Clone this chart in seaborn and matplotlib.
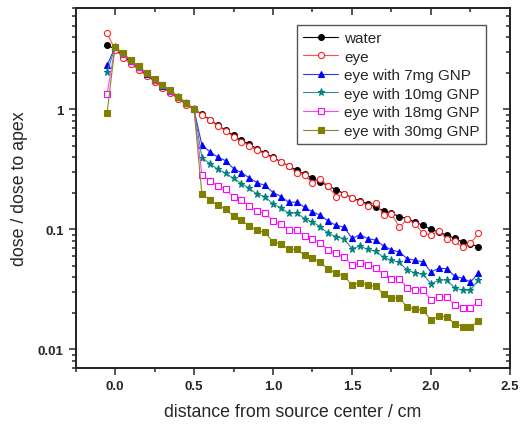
import pandas as pd
import matplotlib
matplotlib.use("Agg")
import matplotlib.pyplot as plt
import seaborn as sns

# distance from source center / cm
distance = [-0.05, 0.00, 0.05, 0.10, 0.15, 0.20, 0.25, 0.30, 0.35, 0.40, 0.45, 0.50,
            0.55, 0.60, 0.65, 0.70, 0.75, 0.80, 0.85, 0.90, 0.95, 1.00,
            1.05, 1.10, 1.15, 1.20, 1.25, 1.30, 1.35, 1.40, 1.45, 1.50,
            1.55, 1.60, 1.65, 1.70, 1.75, 1.80, 1.85, 1.90, 1.95, 2.00,
            2.05, 2.10, 2.15, 2.20, 2.25, 2.30]

water = [3.41, 3.20, 2.80, 2.47, 2.20, 1.95, 1.73, 1.55, 1.39, 1.25, 1.12, 1.00,
         0.914, 0.82, 0.74, 0.671, 0.607, 0.552, 0.511, 0.469, 0.433, 0.398,
         0.366, 0.338, 0.311, 0.289, 0.268, 0.248, 0.231, 0.214, 0.198, 0.184,
         0.173, 0.164, 0.153, 0.143, 0.136, 0.128, 0.123, 0.115, 0.108, 0.100,
         0.095, 0.0897, 0.0841, 0.0784, 0.076, 0.0713]

eye = [4.30, 3.15, 2.70, 2.38, 2.13, 1.90, 1.70, 1.52, 1.37, 1.22, 1.09, 1.00,
       0.90, 0.81, 0.73, 0.66, 0.59, 0.535, 0.50, 0.455, 0.425, 0.39,
       0.362, 0.336, 0.295, 0.283, 0.245, 0.262, 0.228, 0.188, 0.197, 0.182,
       0.170, 0.158, 0.167, 0.133, 0.134, 0.105, 0.121, 0.110, 0.0925, 0.090,
       0.0964, 0.083, 0.0794, 0.071, 0.0765, 0.093]

gnp7 = [2.34, 3.28, 2.88, 2.53, 2.24, 1.99, 1.76, 1.57, 1.41, 1.26, 1.12, 1.00,
        0.503, 0.444, 0.400, 0.374, 0.321, 0.297, 0.269, 0.244, 0.233, 0.203,
        0.188, 0.168, 0.169, 0.153, 0.140, 0.131, 0.117, 0.108, 0.1045, 0.0841,
        0.0903, 0.0837, 0.0815, 0.0726, 0.0677, 0.0646, 0.0571, 0.0552, 0.0536, 0.0441,
        0.0476, 0.0469, 0.0408, 0.0391, 0.0365, 0.0432]

gnp10 = [2.05, 3.28, 2.88, 2.53, 2.24, 1.99, 1.76, 1.57, 1.41, 1.26, 1.12, 1.00,
         0.397, 0.353, 0.318, 0.294, 0.266, 0.241, 0.220, 0.196, 0.188, 0.162,
         0.152, 0.136, 0.137, 0.123, 0.115, 0.1053, 0.0926, 0.0869, 0.0837, 0.069,
         0.0726, 0.0681, 0.0659, 0.0584, 0.0552, 0.0534, 0.0455, 0.0435, 0.0422, 0.0353,
         0.0376, 0.0381, 0.0324, 0.0312, 0.0312, 0.0378]

gnp18 = [1.35, 3.29, 2.90, 2.55, 2.26, 2.00, 1.77, 1.59, 1.42, 1.27, 1.13, 1.00,
         0.285, 0.254, 0.230, 0.218, 0.185, 0.175, 0.156, 0.141, 0.137, 0.117,
         0.111, 0.0994, 0.0994, 0.0879, 0.0825, 0.0775, 0.0668, 0.0631, 0.0592, 0.0501,
         0.0521, 0.051, 0.048, 0.0422, 0.0388, 0.0388, 0.0327, 0.0315, 0.0312, 0.0258,
         0.0275, 0.0275, 0.0233, 0.0223, 0.0223, 0.0248]

gnp30 = [0.94, 3.31, 2.95, 2.58, 2.28, 2.02, 1.78, 1.61, 1.44, 1.28, 1.14, 1.00,
         0.196, 0.177, 0.159, 0.148, 0.129, 0.1195, 0.107, 0.098, 0.0944, 0.0784,
         0.076, 0.0681, 0.0681, 0.061, 0.0573, 0.0534, 0.0464, 0.043, 0.0411, 0.0343,
         0.036, 0.0343, 0.0335, 0.0289, 0.0269, 0.0269, 0.0225, 0.0217, 0.0213, 0.0175,
         0.019, 0.0187, 0.0164, 0.0155, 0.0154, 0.0172]

labels = ["water", "eye", "eye with 7mg GNP", "eye with 10mg GNP",
          "eye with 18mg GNP", "eye with 30mg GNP"]

df = pd.DataFrame({"distance": distance, labels[0]: water, labels[1]: eye,
                   labels[2]: gnp7, labels[3]: gnp10, labels[4]: gnp18,
                   labels[5]: gnp30})
long_df = df.melt(id_vars="distance", var_name="sample", value_name="dose")

sns.set_style("ticks")
plt.rcParams["font.family"] = ["Liberation Sans", "DejaVu Sans"]

# estilo de cada curva (cor da linha, cor do marcador, marcador, preenchido?, tamanho)
styles = {
    "water": ("#000000", "#000000", "o", True, 4.2),
    "eye": ("#FF5050", "#FF2020", "o", False, 4.4),
    "eye with 7mg GNP": ("#3030FF", "#0000FF", "^", True, 4.6),
    "eye with 10mg GNP": ("#2A9090", "#008080", "*", True, 5.2),
    "eye with 18mg GNP": ("#FF40FF", "#FF00FF", "s", False, 3.8),
    "eye with 30mg GNP": ("#8A8A20", "#808000", "s", True, 3.8),
}

fig = plt.figure(figsize=(5.27, 4.27), dpi=100)
ax = fig.add_axes([0.1433, 0.1358, 0.9677 - 0.1433, 0.979 - 0.1358])

for name in labels:
    lcolor, mcolor, marker, filled, ms = styles[name]
    sub = long_df[long_df["sample"] == name]
    sns.lineplot(data=sub, x="distance", y="dose", ax=ax, color=lcolor,
                 marker=marker, markersize=ms, linewidth=0.8,
                 markerfacecolor=mcolor if filled else "white",
                 markeredgecolor=mcolor, markeredgewidth=0.8, label=name)

xmaj = [0.0, 0.5, 1.0, 1.5, 2.0, 2.5]
xmin = [-0.25, 0.25, 0.75, 1.25, 1.75, 2.25]

ax.set_yscale("log")
ax.set_xlim(-0.25, 2.5)
ax.set_ylim(0.007, 7)
ax.set_xticks(xmaj)
ax.set_xticks(xmin, minor=True)
ax.set_xticklabels(["0.0", "0.5", "1.0", "1.5", "2.0", "2.5"])
ax.set_yticks([0.01, 0.1, 1])
ax.set_yticklabels(["0.01", "0.1", "1"])
ax.tick_params(which="both", direction="out", width=1.1, labelsize=9.5)
ax.tick_params(which="major", length=5)
ax.tick_params(which="minor", length=3)
for lab in ax.get_xticklabels() + ax.get_yticklabels():
    lab.set_fontweight("bold")

for sp in ax.spines.values():
    sp.set_linewidth(1.3)
    sp.set_visible(True)

# eixos de cima e da direita com ticks para dentro
ax_top = ax.twiny()
ax_top.set_xlim(ax.get_xlim())
ax_top.set_xticks(xmaj)
ax_top.set_xticks(xmin, minor=True)
ax_top.tick_params(which="both", direction="in", top=True, labeltop=False,
                   bottom=False, labelbottom=False, width=1.1)
ax_top.tick_params(which="major", length=5)
ax_top.tick_params(which="minor", length=3)

ax_right = ax.twinx()
ax_right.set_yscale("log")
ax_right.set_ylim(ax.get_ylim())
ax_right.tick_params(which="both", direction="in", right=True, labelright=False,
                     left=False, labelleft=False, width=1.1)
ax_right.tick_params(which="major", length=5)
ax_right.tick_params(which="minor", length=3)
for a in (ax_top, ax_right):
    for sp in a.spines.values():
        sp.set_linewidth(1.3)

ax.set_xlabel("distance from source center / cm", fontsize=12.8, labelpad=8)
ax.set_ylabel("dose / dose to apex", fontsize=12.8, labelpad=7)

leg = ax.legend(loc="upper right", bbox_to_anchor=(0.945, 0.953), fontsize=11,
                frameon=True, fancybox=False, framealpha=1, edgecolor="#555555",
                handlelength=2.3, labelspacing=0.3, borderpad=0.4,
                handletextpad=0.4, borderaxespad=0)
leg.get_frame().set_linewidth(1.0)

plt.savefig("out.png", dpi=100)
plt.close()
